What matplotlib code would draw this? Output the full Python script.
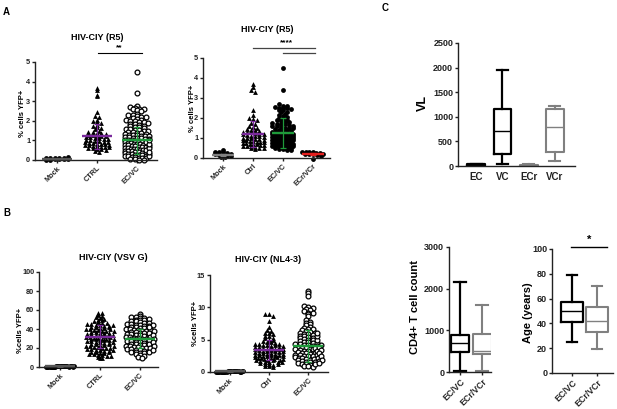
import matplotlib
matplotlib.use("Agg")
import matplotlib.pyplot as plt
import numpy as np

plt.rcParams['font.family'] = ['Liberation Sans', 'DejaVu Sans']
plt.rcParams['font.weight'] = 'bold'

# ---- panel A, left: HIV-CIY (R5)
a1_cats = ['Mock', 'CTRL', 'EC/VC']
a1_mock = "0 0.02 0.03 0.04 0.05 0.06 0.08 0.09 0.1 0.11 0.12 0.13"
a1_ctrl = ("3.65 3.55 3.3 3.25 2.45 2.25 2.2 2.05 1.98 1.95 1.9 1.78 1.75 1.7 1.62 1.58 1.5 1.45 1.42 1.4 "
           "1.36 1.33 1.3 1.28 1.25 1.22 1.2 1.18 1.15 1.12 1.1 1.08 1.05 1.02 1.0 0.98 0.96 0.94 0.92 0.9 "
           "0.88 0.86 0.84 0.82 0.8 0.78 0.76 0.74 0.72 0.7 0.68 0.66 0.64 0.62 0.6 0.57 0.54 0.5 0.45 0.4")
a1_ecvc = ("4.5 3.4 2.75 2.68 2.65 2.62 2.6 2.58 2.55 2.5 2.35 2.3 2.28 2.22 2.2 2.18 2.12 2.1 2.05 2.03 "
           "2.0 1.98 1.95 1.92 1.9 1.85 1.82 1.8 1.76 1.72 1.7 1.68 1.65 1.6 1.58 1.55 1.52 1.5 1.48 1.45 "
           "1.42 1.4 1.38 1.35 1.32 1.3 1.28 1.26 1.24 1.22 1.2 1.18 1.16 1.14 1.12 1.1 1.08 1.06 1.04 1.02 "
           "1.0 0.98 0.96 0.94 0.92 0.9 0.88 0.86 0.84 0.82 0.8 0.78 0.76 0.74 0.72 0.7 0.68 0.66 0.64 0.62 "
           "0.6 0.58 0.56 0.54 0.52 0.5 0.48 0.46 0.44 0.42 0.4 0.38 0.36 0.34 0.32 0.3 0.28 0.26 0.24 0.22 "
           "0.2 0.18 0.16 0.14 0.12 0.1 0.08 0.06 0.04 0.02 0.0 0.5 0.7 0.9 0.3 0.6 0.8 0.2 0.4 1.0")
a1_mean = [0.05, 1.2, 1.0]
a1_sd = [0.02, 0.65, 0.68]

# ---- panel A, right: HIV-CIY (R5)
a2_cats = ['Mock', 'Ctrl', 'EC/VC', 'ECr/VCr']
a2_mock = "0.4 0.3 0.3 0.28 0.25 0.22 0.2 0.15 0.12 0.1 0.08 0.05 0.03"
a2_ctrl = ("3.7 3.55 3.4 3.3 2.4 2.15 2.0 1.95 1.9 1.75 1.7 1.6 1.55 1.5 1.45 1.4 1.38 1.35 1.32 1.3 "
           "1.28 1.25 1.22 1.2 1.18 1.15 1.12 1.1 1.08 1.05 1.02 1.0 0.98 0.96 0.94 0.92 0.9 0.88 0.86 0.84 "
           "0.82 0.8 0.78 0.76 0.74 0.72 0.7 0.68 0.66 0.64 0.62 0.6 0.58 0.55 0.52 0.5 0.48 0.45")
a2_ecvc = ("4.5 3.4 2.7 2.62 2.6 2.55 2.52 2.5 2.48 2.45 2.42 2.38 2.32 2.28 2.2 2.15 2.1 2.05 2.0 1.96 "
           "1.92 1.88 1.85 1.82 1.78 1.75 1.72 1.7 1.68 1.65 1.62 1.6 1.58 1.55 1.52 1.5 1.48 1.45 1.42 1.4 "
           "1.38 1.35 1.32 1.3 1.28 1.26 1.24 1.22 1.2 1.18 1.16 1.14 1.12 1.1 1.08 1.06 1.04 1.02 1.0 0.98 "
           "0.96 0.94 0.92 0.9 0.88 0.86 0.84 0.82 0.8 0.78 0.76 0.74 0.72 0.7 0.68 0.66 0.64 0.62 0.6 0.58 "
           "0.56 0.54 0.52 0.5 0.48 0.46 0.44 0.42 0.4 0.5 0.6 0.7 0.8 0.9 1.0 1.1")
a2_ecrvcr = "0.32 0.3 0.3 0.28 0.26 0.25 0.22 0.2 0.2 0.18 0.15 0.12 -0.05"
a2_mean = [0.15, 1.2, 1.25, 0.2]
a2_sd = [0.05, 0.65, 0.75, 0.05]

# ---- panel B, left: HIV-CIY (VSV G)
b1_cats = ['Mock', 'CTRL', 'EC/VC']
b1_mock = ("0 0 0.1 0.2 0.2 0.3 0.4 0.5 0.5 0.6 0.7 0.8 0.8 0.9 1.0 1.0 1.1 1.2 1.2 1.3 1.4 1.5 "
           "0.3 0.6 0.9 1.1 0.4 0.7")
b1_ctrl = ("57 57 55 54 53 52 51 50 49 48 47 46 46 45 45 44 44 43 43 42 42 41 41 40 40 39 39 38 38 37 "
           "37 36 36 35 35 34 34 33 33 32 32 31 31 30 30 29 29 28 28 27 27 26 26 25 25 24 24 23 23 22 "
           "22 21 21 20 20 19 19 18 18 17 17 16 16 15 15 14 14 13 13 12 12 11 10 9 "
           "44 40 36 32 28 24 20 16 42 38 34 30 26 22 18")
b1_ecvc = ("56 54 53 53 52 52 51 50 50 49 48 48 47 46 46 45 45 44 44 43 43 42 42 41 41 40 40 39 39 38 "
           "38 37 37 36 36 35 35 34 34 33 33 32 32 31 31 30 30 29 29 28 28 27 27 26 26 25 25 24 24 23 "
           "23 22 22 21 21 20 20 19 19 18 18 17 17 16 16 15 15 14 13 12 11 10 "
           "44 40 36 32 28 24 20 16 42 38 34 30 26 22 18")
b1_mean = [0.6, 32, 30]
b1_sd = [0.3, 12, 10]

# ---- panel B, right: HIV-CIY (NL4-3)
b2_cats = ['Mock', 'Ctrl', 'EC/VC']
b2_mock = ("0 0 0.01 0.02 0.03 0.04 0.05 0.05 0.06 0.07 0.08 0.09 0.1 0.1 0.11 0.12 0.13 0.14 0.15 0.16 "
           "0.02 0.06 0.1 0.14")
b2_ctrl = ("9.0 8.9 8.7 7.9 7.0 6.5 6.3 6.0 6.0 5.8 5.5 5.5 5.3 5.2 5.0 4.9 4.8 4.7 4.6 4.5 4.4 4.3 4.2 "
           "4.1 4.0 3.9 3.8 3.7 3.6 3.5 3.4 3.3 3.2 3.1 3.0 2.9 2.8 2.7 2.6 2.5 2.4 2.3 2.2 2.1 2.0 1.9 "
           "1.8 1.7 1.6 1.5 1.4 1.3 1.2 1.1 1.0 0.9 0.8 3.8 3.4 3.0 2.6 2.2 1.8 3.6 3.2 2.8 2.4 2.0 "
           "4.2 3.9 3.5 3.1 2.7 2.3 1.9 1.5 4.4 4.0 3.6 3.2 2.8 2.4 2.0 1.6 1.2")
b2_ecvc = ("12.5 12.2 11.8 10.2 10.0 9.9 9.8 9.6 9.4 9.2 9.1 8.9 8.6 8.0 7.8 7.6 7.4 7.3 7.0 6.8 6.7 6.6 "
           "6.5 6.4 6.2 6.1 6.0 5.9 5.8 5.7 5.6 5.5 5.4 5.3 5.2 5.1 5.0 4.9 4.8 4.7 4.6 4.5 4.4 4.3 4.2 "
           "4.1 4.0 3.9 3.8 3.7 3.6 3.5 3.4 3.3 3.2 3.1 3.0 2.9 2.8 2.7 2.6 2.5 2.4 2.3 2.2 2.1 2.0 1.9 "
           "1.8 1.7 1.6 1.5 1.4 1.3 1.2 1.1 1.0 0.9 0.8 4.5 4.0 3.5 3.0 2.5 2.0 1.5 4.2 3.7 3.2 2.7 2.2 "
           "1.7 1.2 3.9 3.4 2.9 2.4 1.9 1.4 5.0 5.5 6.0")
b2_mean = [0.08, 3.4, 4.0]
b2_sd = [0.05, 1.6, 2.5]

# ---- panel C: box plots (whisker low, Q1, median, Q3, whisker high)
vl_cats = ['EC', 'VC', 'ECr', 'VCr']
vl_lo = [5, 50, 5, 100]
vl_q1 = [10, 240, 10, 290]
vl_med = [20, 720, 20, 790]
vl_q3 = [35, 1150, 30, 1160]
vl_hi = [45, 1950, 40, 1220]

cd4_cats = ['EC/VC', 'ECr/VCr']
cd4_lo = [30, 30]
cd4_q1 = [490, 430]
cd4_med = [690, 510]
cd4_q3 = [880, 920]
cd4_hi = [2150, 1600]

age_cats = ['EC/VC', 'ECr/VCr']
age_lo = [25, 19]
age_q1 = [41, 33]
age_med = [50, 42]
age_q3 = [57, 53]
age_hi = [79, 70]

PURPLE = '#7a2a9c'
GREEN = '#1f9a3a'
RED = '#e5201f'
GREY = '#808080'
DARK = '#555555'

W, H = 617, 409
fig = plt.figure(figsize=(W / 100, H / 100), dpi=100)


def add_ax(left, right, top, bottom):
    return fig.add_axes([left / W, 1 - bottom / H, (right - left) / W, (bottom - top) / H])


def style(ax, ysize=5, xsize=5):
    for s in ['top', 'right']:
        ax.spines[s].set_visible(False)
    for s in ['left', 'bottom']:
        ax.spines[s].set_linewidth(1.0)
        ax.spines[s].set_color('#222222')
    ax.tick_params(axis='y', length=2.5, width=1, labelsize=ysize, pad=1, colors='#222222')
    ax.tick_params(axis='x', length=2.5, width=1, labelsize=xsize, pad=1, colors='#222222')


def swarm(vals, binh, dx, maxw):
    rows = np.round(vals / binh)
    xs = np.zeros(len(vals))
    for r in np.unique(rows):
        idx = np.where(rows == r)[0]
        k = len(idx)
        step = dx if k < 2 else min(dx, maxw / (k - 1))
        xs[idx] = (np.arange(k) - (k - 1) / 2) * step
    return xs


def dotplot(ax, groups, markers, means, sds, colors, binh, dx, maxw, ms=12):
    for i, (g, m) in enumerate(zip(groups, markers)):
        v = np.array(g.split(), float)
        xs = i + swarm(v, binh, dx, maxw)
        if m == 'open':
            ax.scatter(xs, v, s=ms, marker='o', facecolors='white', edgecolors='black',
                       linewidths=0.9, clip_on=False, zorder=2)
        elif m == '^':
            ax.scatter(xs, v, s=ms, marker='^', color='black', linewidths=0, clip_on=False, zorder=2)
        else:
            ax.scatter(xs, v, s=ms, marker='o', color='black', linewidths=0, clip_on=False, zorder=2)
    for i, (mu, sd, c) in enumerate(zip(means, sds, colors)):
        ax.hlines(mu, i - 0.38, i + 0.38, color=c, lw=1.7, zorder=4, clip_on=False)
        ax.errorbar(i, mu, yerr=sd, color=c, lw=0.9, capsize=2.5, capthick=0.9, zorder=4, fmt='none')


def cat_ticks(ax, cats, size=5):
    ax.set_xticks(range(len(cats)))
    ax.set_xticklabels(cats, rotation=45, ha='right', rotation_mode='anchor', fontsize=size,
                       fontweight='bold')


# ---- A left
ax = add_ax(35, 157, 62, 160)
dotplot(ax, [a1_mock, a1_ctrl, a1_ecvc], ['o', '^', 'open'], a1_mean, a1_sd,
        [DARK, PURPLE, GREEN], 0.14, 0.11, 0.62)
ax.set_xlim(-0.55, 2.5)
ax.set_ylim(0, 5)
ax.set_yticks(range(6))
style(ax, ysize=5.3)
cat_ticks(ax, a1_cats, size=5.3)
ax.plot([1.02, 2.12], [5.46, 5.46], color='black', lw=0.8, clip_on=False)
ax.text(1.55, 5.55, '**', ha='center', va='bottom', fontsize=6)
fig.text(97 / W, 1 - 37 / H, 'HIV-CIY (R5)', ha='center', va='center', fontsize=6.5, fontweight='bold')
fig.text(23 / W, 1 - 113 / H, '% cells YFP+', ha='center', va='center', rotation=90, fontsize=5.5,
         fontweight='bold')

# ---- A right
ax = add_ax(203, 330, 58, 158)
dotplot(ax, [a2_mock, a2_ctrl, a2_ecvc, a2_ecrvcr], ['o', '^', 'o', 'o'], a2_mean, a2_sd,
        [GREY, PURPLE, GREEN, RED], 0.14, 0.14, 0.7)
ax.set_xlim(-0.67, 3.57)
ax.set_ylim(0, 5)
ax.set_yticks(range(6))
style(ax, ysize=5.3)
cat_ticks(ax, a2_cats, size=5.3)
ax.plot([1.0, 3.07], [5.5, 5.5], color='#444444', lw=0.9, clip_on=False)
ax.plot([2.0, 3.07], [5.25, 5.25], color='#444444', lw=0.9, clip_on=False)
ax.text(2.13, 5.58, '****', ha='center', va='bottom', fontsize=6)
fig.text(267 / W, 1 - 30 / H, 'HIV-CIY (R5)', ha='center', va='center', fontsize=6.5, fontweight='bold')
fig.text(192 / W, 1 - 108 / H, '% cells YFP+', ha='center', va='center', rotation=90, fontsize=5.5,
         fontweight='bold')

# ---- B left
ax = add_ax(39, 158, 272, 367)
dotplot(ax, [b1_mock, b1_ctrl, b1_ecvc], ['o', '^', 'open'], b1_mean, b1_sd,
        [DARK, PURPLE, GREEN], 2.6, 0.11, 0.7)
ax.set_xlim(-0.53, 2.45)
ax.set_ylim(0, 100)
ax.set_yticks(range(0, 101, 20))
style(ax, ysize=5.3)
cat_ticks(ax, b1_cats, size=5.3)
fig.text(113 / W, 1 - 257 / H, 'HIV-CIY (VSV G)', ha='center', va='center', fontsize=6.5,
         fontweight='bold')
fig.text(20 / W, 1 - 330 / H, '%cells YFP+', ha='center', va='center', rotation=90, fontsize=5.5,
         fontweight='bold')

# ---- B right
ax = add_ax(210, 328, 275, 372)
dotplot(ax, [b2_mock, b2_ctrl, b2_ecvc], ['o', '^', 'open'], b2_mean, b2_sd,
        [DARK, PURPLE, GREEN], 0.42, 0.11, 0.7)
ax.set_xlim(-0.5, 2.5)
ax.set_ylim(0, 15)
ax.set_yticks(range(0, 16, 5))
style(ax, ysize=5.3)
cat_ticks(ax, b2_cats, size=5.3)
fig.text(268 / W, 1 - 260 / H, 'HIV-CIY (NL4-3)', ha='center', va='center', fontsize=6.5,
         fontweight='bold')
fig.text(195 / W, 1 - 323 / H, '%cells YFP+', ha='center', va='center', rotation=90, fontsize=5.5,
         fontweight='bold')


def boxes(ax, lo, q1, med, q3, hi, colors, width, capw):
    for i in range(len(lo)):
        st = [dict(whislo=lo[i], q1=q1[i], med=med[i], q3=q3[i], whishi=hi[i])]
        c = colors[i]
        lw = 1.6 if c == 'black' else 1.5
        ax.bxp(st, positions=[i], widths=width, capwidths=capw, showfliers=False,
               boxprops=dict(color=c, lw=lw), whiskerprops=dict(color=c, lw=lw),
               capprops=dict(color=c, lw=lw), medianprops=dict(color=c, lw=1.0))


# ---- C: VL
ax = add_ax(458, 575, 43, 166)
boxes(ax, vl_lo, vl_q1, vl_med, vl_q3, vl_hi, ['black', 'black', GREY, GREY], 0.68, 0.42)
ax.set_xlim(-0.7, 3.77)
ax.set_ylim(0, 2500)
ax.set_yticks(range(0, 2501, 500))
style(ax, ysize=6.5, xsize=7)
ax.set_xticks(range(4))
ax.set_xticklabels(vl_cats, fontsize=7, fontweight='bold')
ax.tick_params(axis='x', length=0, pad=4)
fig.text(423 / W, 1 - 103 / H, 'VL', ha='center', va='center', rotation=90, fontsize=9,
         fontweight='bold')

# ---- C: CD4
ax = add_ax(449, 491, 247, 372)
boxes(ax, cd4_lo, cd4_q1, cd4_med, cd4_q3, cd4_hi, ['black', GREY], 0.85, 0.55)
ax.set_xlim(-0.5, 1.4)
ax.set_ylim(0, 3000)
ax.set_yticks(range(0, 3001, 1000))
style(ax, ysize=6.5)
cat_ticks(ax, cd4_cats, size=6.3)
ax.tick_params(axis='x', length=2.5)
fig.text(415 / W, 1 - 307 / H, 'CD4+ T cell count', ha='center', va='center', rotation=90,
         fontsize=8, fontweight='bold')

# ---- C: Age
ax = add_ax(552, 613, 249, 373)
boxes(ax, age_lo, age_q1, age_med, age_q3, age_hi, ['black', GREY], 0.85, 0.4)
ax.set_xlim(-0.8, 1.64)
ax.set_ylim(0, 100)
ax.set_yticks(range(0, 101, 20))
style(ax, ysize=6.5)
cat_ticks(ax, age_cats, size=6.3)
ax.plot([-0.04, 1.4], [101.6, 101.6], color='black', lw=1, clip_on=False)
ax.text(0.68, 103, '*', ha='center', va='bottom', fontsize=8)
fig.text(528 / W, 1 - 313 / H, 'Age (years)', ha='center', va='center', rotation=90, fontsize=8,
         fontweight='bold')

# panel letters
fig.text(3 / W, 1 - 12 / H, 'A', ha='left', va='center', fontsize=7, fontweight='bold')
fig.text(3 / W, 1 - 213 / H, 'B', ha='left', va='center', fontsize=7, fontweight='bold')
fig.text(382 / W, 1 - 8 / H, 'C', ha='left', va='center', fontsize=7, fontweight='bold')

fig.savefig('out.png', dpi=100)
